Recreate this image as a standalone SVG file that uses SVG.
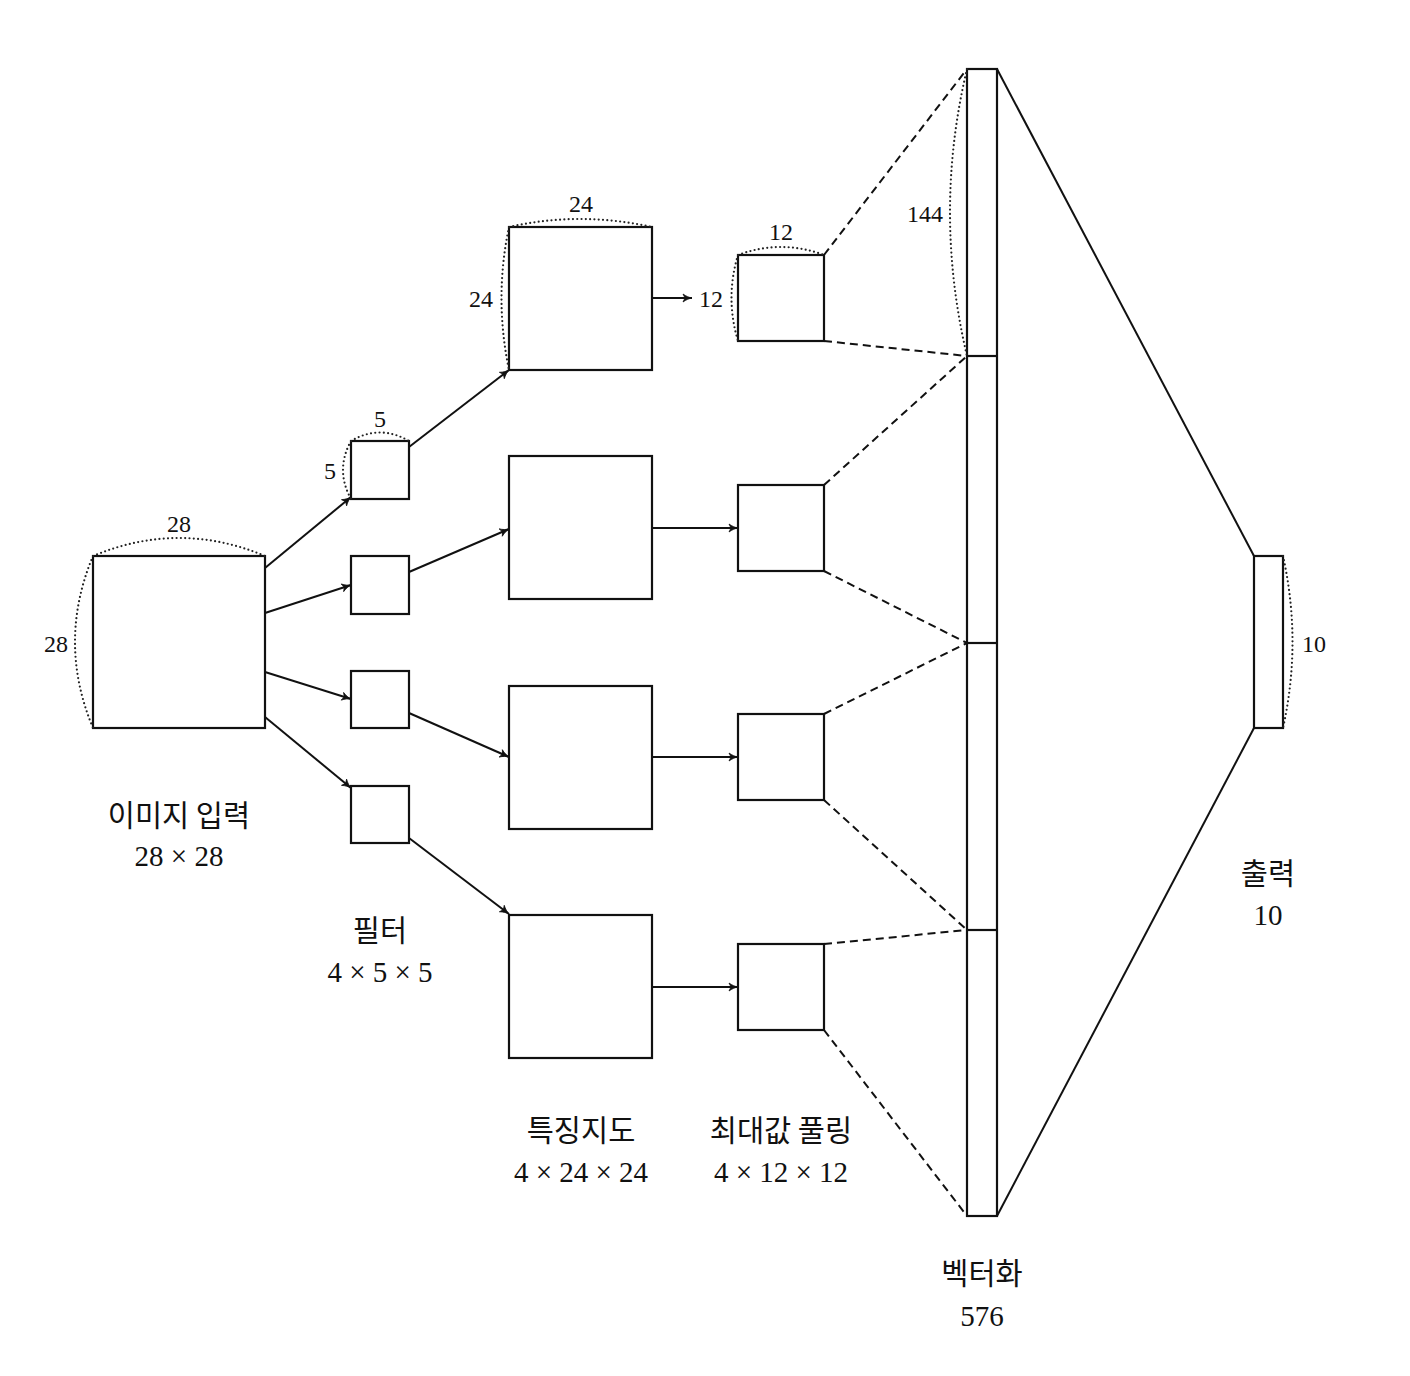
<svg xmlns="http://www.w3.org/2000/svg" width="1410" height="1376" viewBox="0 0 1410 1376">
<style>
.box{fill:#fff;stroke:#111;stroke-width:2.2}
.ln{stroke:#111;stroke-width:2;fill:none}
.dash{stroke:#111;stroke-width:2;fill:none;stroke-dasharray:8 5}
.dot{stroke:#222;stroke-width:2.2;fill:none;stroke-dasharray:0 4.3;stroke-linecap:round}
text.num{fill:#111;text-anchor:middle}
.kr{font-family:'Noto Sans CJK KR','Noto Sans',sans-serif;font-size:29.5px;fill:#111;text-anchor:middle}
</style>
<defs>
<marker id="arr" viewBox="-10 -5 12 10" refX="0" refY="0" markerWidth="12" markerHeight="10" markerUnits="userSpaceOnUse" orient="auto">
<path d="M-9,-4 C-6,-1.7 -2.5,-0.4 0,0 C-2.5,0.4 -6,1.7 -9,4 L-7,0 Z" fill="#111" stroke="#111" stroke-width="0.8"/>
</marker>
</defs>
<rect width="1410" height="1376" fill="#fff"/>

<g id="connectors">
<line class="ln" x1="265" y1="568" x2="351" y2="497" marker-end="url(#arr)"/>
<line class="ln" x1="265" y1="613" x2="351" y2="585" marker-end="url(#arr)"/>
<line class="ln" x1="265" y1="672" x2="351" y2="699" marker-end="url(#arr)"/>
<line class="ln" x1="265" y1="717" x2="351" y2="788" marker-end="url(#arr)"/>
<line class="ln" x1="409" y1="447" x2="509" y2="370" marker-end="url(#arr)"/>
<line class="ln" x1="409" y1="572" x2="509" y2="529" marker-end="url(#arr)"/>
<line class="ln" x1="409" y1="713" x2="509" y2="757" marker-end="url(#arr)"/>
<line class="ln" x1="409" y1="838" x2="509" y2="914" marker-end="url(#arr)"/>
<line class="ln" x1="652" y1="298" x2="692" y2="298" marker-end="url(#arr)"/>
<line class="ln" x1="652" y1="528" x2="738" y2="528" marker-end="url(#arr)"/>
<line class="ln" x1="652" y1="757" x2="738" y2="757" marker-end="url(#arr)"/>
<line class="ln" x1="652" y1="987" x2="738" y2="987" marker-end="url(#arr)"/>
<line class="dash" x1="824" y1="255" x2="967" y2="69"/>
<line class="dash" x1="824" y1="341" x2="967" y2="356"/>
<line class="dash" x1="824" y1="485" x2="967" y2="356"/>
<line class="dash" x1="824" y1="571" x2="967" y2="643"/>
<line class="dash" x1="824" y1="714" x2="967" y2="643"/>
<line class="dash" x1="824" y1="800" x2="967" y2="930"/>
<line class="dash" x1="824" y1="944" x2="967" y2="930"/>
<line class="dash" x1="824" y1="1030" x2="967" y2="1216"/>
<line class="ln" x1="997" y1="69" x2="1254" y2="556"/>
<line class="ln" x1="997" y1="1216" x2="1254" y2="728"/>
</g>

<g id="input">
<rect class="box" x="93" y="556" width="172" height="172"/>
<path class="dot" d="M93,556 Q179,520 265,556"/>
<path class="dot" d="M93,556 Q57,642 93,728"/>
<text class="num" font-family="Liberation Serif, serif" font-size="24" x="179" y="532">28</text>
<text class="num" font-family="Liberation Serif, serif" font-size="24" x="56" y="652">28</text>
<text class="kr" x="179" y="826">이미지 입력</text>
<text class="num" font-family="Liberation Serif, serif" font-size="29" x="179" y="866">28 × 28</text>
</g>

<g id="filters">
<rect class="box" x="351" y="441" width="58" height="58"/>
<rect class="box" x="351" y="556" width="58" height="58"/>
<rect class="box" x="351" y="671" width="58" height="57"/>
<rect class="box" x="351" y="786" width="58" height="57"/>
<path class="dot" d="M351,441 Q380,424 409,441"/>
<path class="dot" d="M351,441 Q335,470 351,499"/>
<text class="num" font-family="Liberation Serif, serif" font-size="24" x="380" y="427">5</text>
<text class="num" font-family="Liberation Serif, serif" font-size="24" x="330" y="479">5</text>
<text class="kr" x="380" y="941">필터</text>
<text class="num" font-family="Liberation Serif, serif" font-size="29" x="380" y="982">4 × 5 × 5</text>
</g>

<g id="features">
<rect class="box" x="509" y="227" width="143" height="143"/>
<rect class="box" x="509" y="456" width="143" height="143"/>
<rect class="box" x="509" y="686" width="143" height="143"/>
<rect class="box" x="509" y="915" width="143" height="143"/>
<path class="dot" d="M509,227 Q580,211 652,227"/>
<path class="dot" d="M509,227 Q494,298 509,370"/>
<text class="num" font-family="Liberation Serif, serif" font-size="24" x="581" y="212">24</text>
<text class="num" font-family="Liberation Serif, serif" font-size="24" x="481" y="307">24</text>
<text class="kr" x="581" y="1141">특징지도</text>
<text class="num" font-family="Liberation Serif, serif" font-size="29" x="581" y="1182">4 × 24 × 24</text>
</g>

<g id="pooling">
<rect class="box" x="738" y="255" width="86" height="86"/>
<rect class="box" x="738" y="485" width="86" height="86"/>
<rect class="box" x="738" y="714" width="86" height="86"/>
<rect class="box" x="738" y="944" width="86" height="86"/>
<path class="dot" d="M738,255 Q781,239 824,255"/>
<path class="dot" d="M738,255 Q725,298 738,341"/>
<text class="num" font-family="Liberation Serif, serif" font-size="24" x="781" y="240">12</text>
<text class="num" font-family="Liberation Serif, serif" font-size="24" x="711" y="307">12</text>
<text class="kr" x="781" y="1141">최대값 풀링</text>
<text class="num" font-family="Liberation Serif, serif" font-size="29" x="781" y="1182">4 × 12 × 12</text>
</g>

<g id="vector">
<rect class="box" x="967" y="69" width="30" height="1147"/>
<line class="ln" x1="967" y1="356" x2="997" y2="356" style="stroke-width:2.2"/>
<line class="ln" x1="967" y1="643" x2="997" y2="643" style="stroke-width:2.2"/>
<line class="ln" x1="967" y1="930" x2="997" y2="930" style="stroke-width:2.2"/>
<path class="dot" d="M967,69 Q933,212 967,356"/>
<text class="num" font-family="Liberation Serif, serif" font-size="24" x="925" y="222">144</text>
<text class="kr" x="982" y="1284">벡터화</text>
<text class="num" font-family="Liberation Serif, serif" font-size="29" x="982" y="1326">576</text>
</g>

<g id="output">
<rect class="box" x="1254" y="556" width="29" height="172"/>
<path class="dot" d="M1283,556 Q1302,642 1283,728"/>
<text class="num" font-family="Liberation Serif, serif" font-size="24" x="1314" y="652">10</text>
<text class="kr" x="1268" y="884">출력</text>
<text class="num" font-family="Liberation Serif, serif" font-size="29" x="1268" y="925">10</text>
</g>
</svg>
